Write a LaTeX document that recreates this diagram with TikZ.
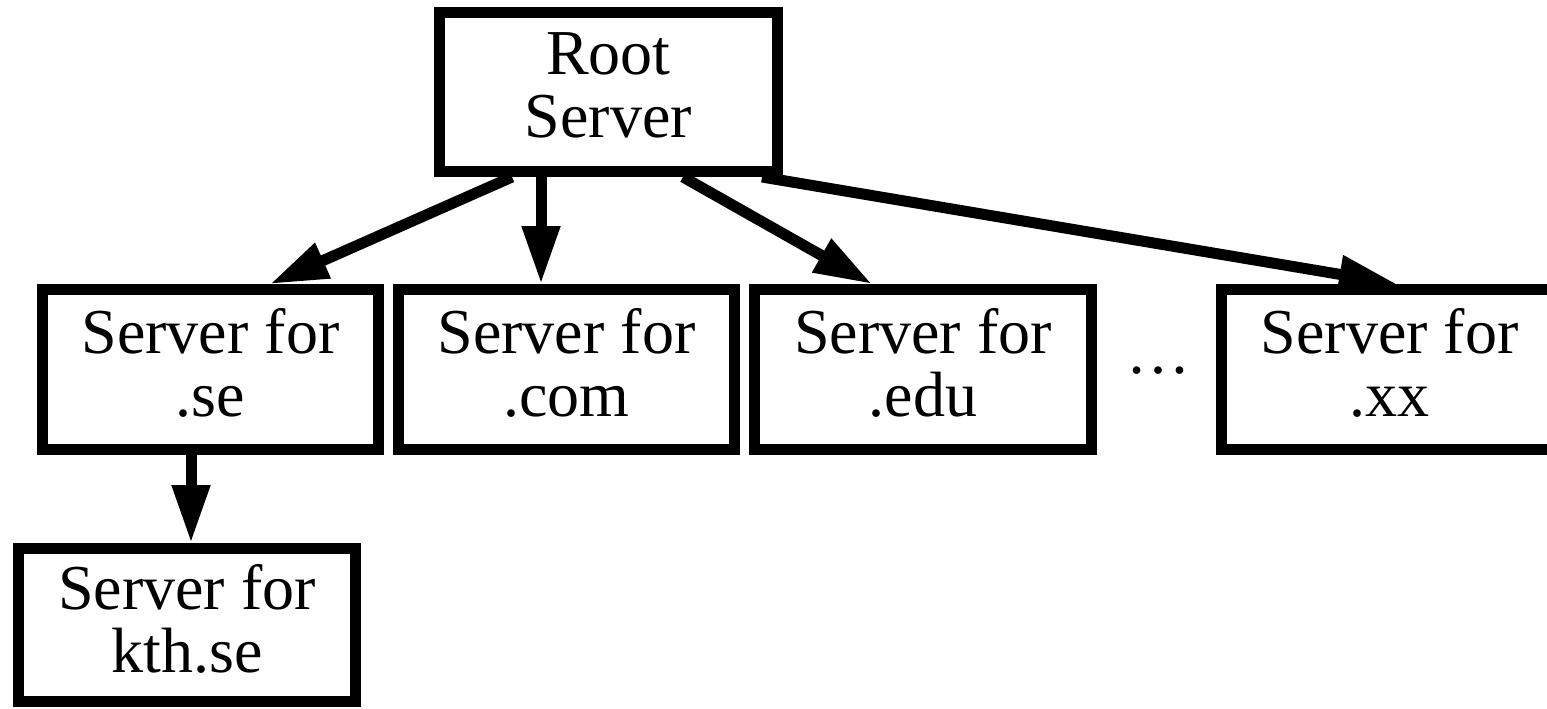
\documentclass[tikz,border=0pt]{standalone}
\usepackage{fontspec}
\setmainfont{Liberation Serif}
\usetikzlibrary{arrows.meta}
\begin{document}
\begin{tikzpicture}[x=1pt,y=-1pt,
  srv/.style={draw=black,line width=11pt,fill=white,align=center,inner sep=0pt,
    minimum width=336pt,minimum height=160pt,text depth=14pt,
    font=\fontsize{64}{63}\selectfont},
  arr/.style={line width=11pt,-{Triangle[length=58pt,width=36pt]}}]
\useasboundingbox (0,0) rectangle (1547,709);
\node[srv,minimum width=338pt,minimum height=159pt] (root) at (608.5,92) {Root\\Server};
\node[srv] (se) at (210.5,369.5) {Server for\\.se};
\node[srv] (com) at (566.5,369.5) {Server for\\.com};
\node[srv,minimum width=337pt] (edu) at (923,369.5) {Server for\\.edu};
\node[srv] (xx) at (1389.5,369.5) {Server for\\.xx};
\node[srv,minimum width=337pt,minimum height=153pt] (kth) at (187,625) {Server for\\kth.se};
\node[anchor=base,font=\fontsize{64}{63}\selectfont,inner sep=0pt] (dots) at (1158,373) {…};
\draw[arr] ([xshift=-96.5pt]root.south) -- ([xshift=59.5pt]se.north);
\draw[arr] ([xshift=-67.5pt]root.south) -- ([xshift=-25.5pt]com.north);
\draw[arr] ([xshift=74.5pt]root.south) -- ([xshift=-51pt]edu.north);
\draw[arr] ([xshift=153.5pt]root.south) -- ([xshift=7.5pt]xx.north);
\draw[arr] ([xshift=-19.5pt]se.south) -- ([xshift=4pt]kth.north);
\end{tikzpicture}
\end{document}
